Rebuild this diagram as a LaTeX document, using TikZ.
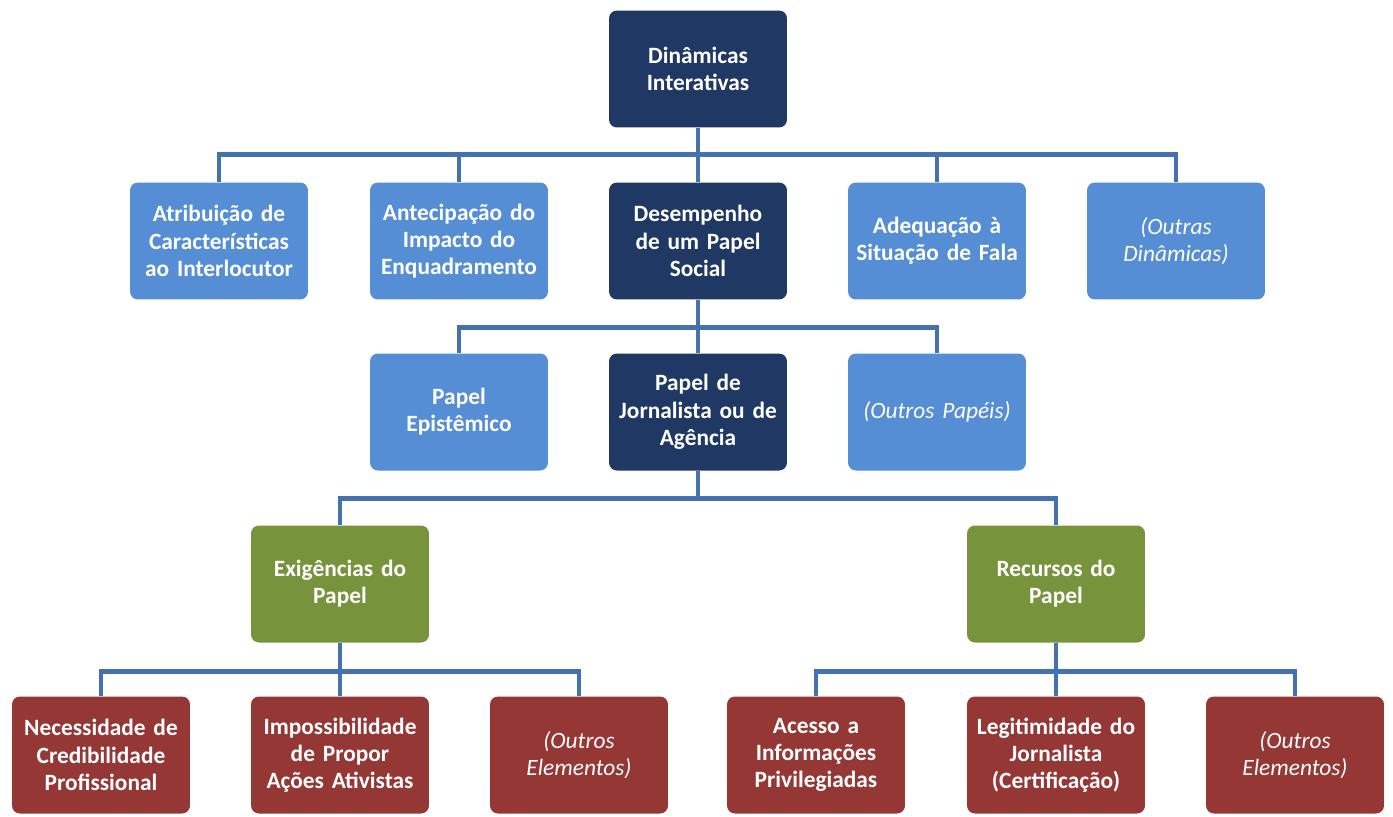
\documentclass[tikz,border=0pt]{standalone}
\usepackage{fontspec}
\setmainfont{Carlito}
\definecolor{navy}{RGB}{31,56,100}
\definecolor{skyblue}{RGB}{85,142,213}
\definecolor{leaf}{RGB}{119,147,60}
\definecolor{brick}{RGB}{149,55,53}
\definecolor{wire}{RGB}{68,114,176}
\tikzset{
  box/.style={rounded corners=4.5pt, minimum width=3.56cm, minimum height=2.34cm,
    text width=3.5cm, align=center, inner sep=0pt, text=white,
    font=\fontsize{13.3}{15.5}\selectfont\bfseries},
  darkbox/.style={box, fill=navy},
  bluebox/.style={box, fill=skyblue},
  greenbox/.style={box, fill=leaf},
  redbox/.style={box, fill=brick},
  other/.style={font=\fontsize{13.3}{15.5}\selectfont\itshape},
  link/.style={wire, line width=2.8pt}
}
\begin{document}
\begin{tikzpicture}[x=0.02cm, y=-0.02cm]
    \useasboundingbox (0,0) rectangle (1393,816);

    % Level 1
    \node[darkbox] (din) at (698,69) {Dinâmicas\\Interativas};

    % Level 2 (dynamics)
    \node[bluebox] (atrib) at (219,241) {Atribuição de\\Características\\ao Interlocutor};
    \node[bluebox] (antec) at (459,241) {Antecipação do\\Impacto do\\Enquadramento};
    \node[darkbox] (desemp) at (698,241) {Desempenho\\de um Papel\\Social};
    \node[bluebox] (adequ) at (937,241) {Adequação à\\Situação de Fala};
    \node[bluebox, other] (outdin) at (1176,241) {(Outras\\Dinâmicas)};

    % Level 3 (roles)
    \node[bluebox] (epist) at (459,412) {Papel\\Epistêmico};
    \node[darkbox] (jorn) at (698,412) {Papel de\\Jornalista ou de\\Agência};
    \node[bluebox, other] (outpap) at (937,412) {(Outros Papéis)};

    % Level 4 (demands / resources)
    \node[greenbox] (exig) at (340,584) {Exigências do\\Papel};
    \node[greenbox] (recur) at (1056,584) {Recursos do\\Papel};

    % Level 5 (elements)
    \node[redbox] (neces) at (101,755) {Necessidade de\\Credibilidade\\Profissional};
    \node[redbox] (impos) at (340,755) {Impossibilidade\\de Propor\\Ações Ativistas};
    \node[redbox, other] (outel1) at (579,755) {(Outros\\Elementos)};
    \node[redbox] (acess) at (816,755) {Acesso a\\Informações\\Privilegiadas};
    \node[redbox] (legit) at (1056,755) {Legitimidade do\\Jornalista\\(Certificação)};
    \node[redbox, other] (outel2) at (1295,755) {(Outros\\Elementos)};

    % Connectors
    \foreach \c in {atrib, antec, desemp, adequ, outdin}
        \draw[link] (din.south) -- ++(0,27) -| (\c.north);
    \foreach \c in {epist, jorn, outpap}
        \draw[link] (desemp.south) -- ++(0,28) -| (\c.north);
    \foreach \c in {exig, recur}
        \draw[link] (jorn.south) -- ++(0,28) -| (\c.north);
    \foreach \c in {neces, impos, outel1}
        \draw[link] (exig.south) -- ++(0,29) -| (\c.north);
    \foreach \c in {acess, legit, outel2}
        \draw[link] (recur.south) -- ++(0,29) -| (\c.north);

\end{tikzpicture}
\end{document}
